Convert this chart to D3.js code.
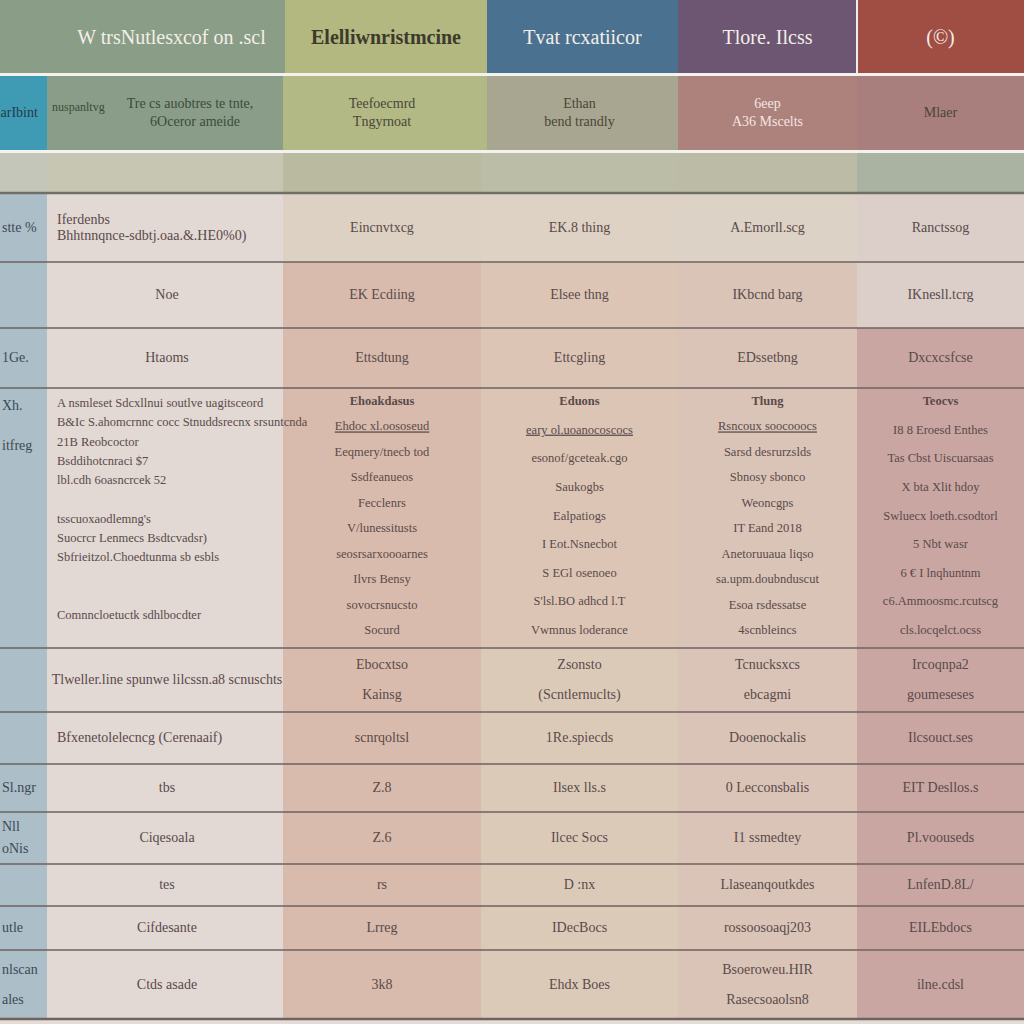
<!DOCTYPE html>
<html>
<head>
<meta charset="utf-8">
<script src="https://cdn.jsdelivr.net/npm/d3@7"></script>
<style>
  body { margin: 0; background: #e6dcd6; }
  svg text { font-family: "Liberation Serif", "DejaVu Serif", serif; }
</style>
</head>
<body>
<svg id="table"></svg>
<script>
let width = 1024, height = 1024;

// ---- table content ----
let headers = ["W trsNutlesxcof  on  .scl", "Elelliwnristmcine", "Tvat rcxatiicor", "Tlore. Ilcss", "(©)"];
let subLabel = "nuspanltvg";
let subHeaders = [
  ["arIbint"],
  ["Tre cs auobtres te tnte,", "6Oceror  ameide"],
  ["Teefoecmrd", "Tngyrnoat"],
  ["Ethan", "bend trandly"],
  ["6eep", "A36 Mscelts"],
  ["Mlaer"]
];
let rowLabels = [["stte %"], [""], ["1Ge."], ["Xh.", "itfreg"], [""], [""], ["Sl.ngr"], ["Nll", "oNis"], [""], ["utle"], ["nlscan", "ales"]];
let rowDescs = [
  ["Iferdenbs", "Bhhtnnqnce-sdbtj.oaa.&.HE0%0)"],
  ["Noe"],
  ["Htaoms"],
  ["A nsmleset  Sdcxllnui  soutlve uagitsceord", "B&Ic S.ahomcrnnc  cocc  Stnuddsrecnx srsuntcnda", "21B  Reobcoctor",
   "Bsddihotcnraci    $7", "lbl.cdh 6oasncrcek  52", "", "tsscuoxaodlemng's", "Suocrcr Lenmecs    Bsdtcvadsr)",
   "Sbfrieitzol.Choedtunma  sb esbls", "", "", "Comnncloetuctk  sdhlbocdter"],
  ["Tlweller.line   spunwe lilcssn.a8 scnuschts"],
  ["Bfxenetolelecncg (Cerenaaif)"],
  ["tbs"],
  ["Ciqesoala"],
  ["tes"],
  ["Cifdesante"],
  ["Ctds asade"]
];
let colA = [["Eincnvtxcg"], ["EK Ecdiing"], ["Ettsdtung"],
  ["Ehoakdasus", "Ehdoc xl.oososeud", "Eeqmery/tnecb tod", "Ssdfeanueos", "Fecclenrs", "V/lunessitusts", "seosrsarxoooarnes", "Ilvrs Bensy", "sovocrsnucsto", "Socurd"],
  ["Ebocxtso", "Kainsg"], ["scnrqoltsl"], ["Z.8"], ["Z.6"], ["rs"], ["Lrreg"], ["3k8"]];
let colB = [["EK.8 thing"], ["Elsee thng"], ["Ettcgling"],
  ["Eduons", "eary ol.uoanocoscocs", "esonof/gceteak.cgo", "Saukogbs", "Ealpatiogs", "I   Eot.Nsnecbot", "S  EGl  osenoeo", "S'lsl.BO adhcd l.T", "Vwmnus loderance"],
  ["Zsonsto", "(Scntlernuclts)"], ["1Re.spiecds"], ["Ilsex lls.s"], ["Ilcec Socs"], ["D   :nx"], ["IDecBocs"], ["Ehdx Boes"]];
let colC = [["A.Emorll.scg"], ["IKbcnd barg"], ["EDssetbng"],
  ["Tlung", "Rsncoux  soocooocs", "Sarsd desrurzslds", "Sbnosy  sbonco", "Weoncgps", "IT  Eand 2018", "Anetoruuaua liqso", "sa.upm.doubnduscut", "Esoa  rsdessatse", "4scnbleincs"],
  ["Tcnucksxcs", "ebcagmi"], ["Dooenockalis"], ["0  Lecconsbalis"], ["I1 ssmedtey"], ["Llaseanqoutkdes"], ["rossoosoaqj203"], ["Bsoeroweu.HIR", "Rasecsoaolsn8"]];
let colD = [["Ranctssog"], ["IKnesll.tcrg"], ["Dxcxcsfcse"],
  ["Teocvs", "I8 8  Eroesd  Enthes", "Tas Cbst Uiscuarsaas", "X  bta  Xlit hdoy", "Swluecx  loeth.csodtorl", "5  Nbt  wasr", "6  € I  lnqhuntnm", "c6.Ammoosmc.rcutscg", "cls.locqelct.ocss"],
  ["Ircoqnpa2", "goumeseses"], ["Ilcsouct.ses"], ["EIT Desllos.s"], ["Pl.voouseds"], ["LnfenD.8L/"], ["EILEbdocs"], ["ilne.cdsl"]];

// ---- layout ----
let colEdges = [0, 47, 283, 481, 678, 857, 1024];
let headerEdges = [0, 285, 487, 678, 857, 1024];
let rowEdges = [193, 262, 328, 388, 648, 712, 764, 812, 864, 906, 950, 1019];

let headerFill = ["#8a9d86", "#b2b880", "#4b7191", "#6d5672", "#a04d44"];
let subFill = ["#3f9bb3", "#8a9d88", "#b3b985", "#a8a690", "#ad817c", "#a97f7e"];
let bandFill = ["#c3c6b8", "#c6c6b2", "#b9ba9f", "#bcbda6", "#bcbca6", "#aab3a2"];
let bodyFill = ["#acbec8", "#e2d8d4", "#d8bbac", "#dcc5b5", "#d9c4b7", "#c9a6a2"];
let bodyFillLight = ["#acbec8", "#e2d9d4", "#ddd1c3", "#ddd2c4", "#ddd2c6", "#dccfca"];

let svg = d3.select("#table").attr("width", width).attr("height", height);

let x = d3.scaleOrdinal().domain(d3.range(7)).range(colEdges);
let nRows = rowEdges.length - 1;
let y = d3.scaleOrdinal().domain(d3.range(rowEdges.length)).range(rowEdges);

// header row
let hdr = svg.append("g");
hdr.selectAll("rect").data(headers).enter().append("rect")
  .attr("x", (d, i) => headerEdges[i]).attr("y", 0)
  .attr("width", (d, i) => headerEdges[i + 1] - headerEdges[i]).attr("height", 74)
  .attr("fill", (d, i) => headerFill[i]);
hdr.selectAll("text").data(headers).enter().append("text")
  .attr("x", (d, i) => (headerEdges[i] + headerEdges[i + 1]) / 2 + (i == 0 ? 29 : 0))
  .attr("y", 44)
  .attr("text-anchor", "middle")
  .attr("font-size", 20)
  .attr("fill", (d, i) => i == 1 ? "#3d3a2c" : "#f3efe8")
  .attr("font-weight", (d, i) => i == 1 ? "bold" : "normal")
  .text(d => d);
svg.append("line").attr("x1", 857).attr("x2", 857).attr("y1", 0).attr("y2", 74)
  .attr("stroke", "#eee").attr("stroke-width", 2);

// second header row
let sub = svg.append("g");
sub.selectAll("rect").data(subHeaders).enter().append("rect")
  .attr("x", (d, i) => i == 3 ? 487 : colEdges[i]).attr("y", 76)
  .attr("width", (d, i) => (i == 2 ? 487 : colEdges[i + 1]) - (i == 3 ? 487 : colEdges[i]))
  .attr("height", 75)
  .attr("fill", (d, i) => subFill[i]);
sub.append("text").attr("x", 52).attr("y", 111)
  .attr("font-size", 12).attr("fill", "#3b4a3c").text(subLabel);
sub.selectAll("g").data(subHeaders).enter().append("g")
  .each(function(lines, i) {
    let cx = (colEdges[i] + colEdges[i + 1]) / 2 + (i == 1 ? 25 : 0);
    let y0 = 117 - (lines.length - 1) * 9;
    d3.select(this).selectAll("text").data(lines).enter().append("text")
      .attr("x", (d, j) => i == 1 && j == 1 ? cx + 5 : cx)
      .attr("y", (d, j) => y0 + j * 18)
      .attr("text-anchor", i == 0 ? "start" : "middle")
      .attr("dx", i == 0 ? -23 : 0)
      .attr("font-size", 14)
      .attr("fill", i == 0 ? "#223c48" : i == 4 ? "#f2e6e2" : i == 1 ? "#3b4a3c" : "#4a4538")
      .text(d => d);
  });

// light band row
svg.append("g").selectAll("rect").data(bandFill).enter().append("rect")
  .attr("x", (d, i) => colEdges[i]).attr("y", 153)
  .attr("width", (d, i) => colEdges[i + 1] - colEdges[i]).attr("height", 40)
  .attr("fill", d => d);

// white separators
[74, 151].forEach(v => svg.append("line").attr("x1", 0).attr("x2", width)
  .attr("y1", v + 0.5).attr("y2", v + 0.5).attr("stroke", "#f4f2ee").attr("stroke-width", 3));

// body cells
let body = svg.append("g");
let cells = [];
for (let r = 0; r < nRows; r++) {
  let columns = [rowLabels[r], rowDescs[r], colA[r], colB[r], colC[r], colD[r]];
  columns.forEach((lines, c) => cells.push({ r, c, lines }));
}
let fillFor = d => {
  if (d.r == 0 && d.c >= 2) return bodyFillLight[d.c];
  if (d.r == 1 && d.c == 5) return bodyFillLight[d.c];
  if (d.r >= 4 && d.c == 3) return "#dccab9";
  return bodyFill[d.c];
};
body.selectAll("rect").data(cells).enter().append("rect")
  .attr("x", d => x(d.c)).attr("y", d => y(d.r))
  .attr("width", d => x(d.c + 1) - x(d.c)).attr("height", d => y(d.r + 1) - y(d.r))
  .attr("fill", fillFor);

let leftAligned = d => d.c == 1 && (d.r == 0 || d.r == 3 || d.r == 5);
body.selectAll("g.cell").data(cells).enter().append("g").attr("class", "cell")
  .each(function(d) {
    let top = y(d.r), bot = y(d.r + 1);
    let n = d.lines.length;
    let tall = bot - top > 150;
    let ly;
    if (n > 3) {
      ly = d3.scalePoint().domain(d3.range(n))
        .range(d.c == 1 ? [top + 19, bot - 29] : [top + 17, bot - 14]);
    } else if (tall) {
      ly = j => top + 22 + j * 40;
    } else {
      let step = d.c == 1 ? 16 : n == 2 && bot - top > 60 ? 30 : 22;
      ly = j => (top + bot) / 2 + 4 - (n - 1) * step / 2 + j * step;
    }
    let cx = (x(d.c) + x(d.c + 1)) / 2;
    let g = d3.select(this);
    g.selectAll("text").data(d.lines).enter().append("text")
      .attr("x", leftAligned(d) ? x(d.c) + 10 : d.c == 0 ? 2 : cx + (d.c == 1 ? 2 : 0))
      .attr("y", (t, j) => ly(j))
      .attr("text-anchor", leftAligned(d) || d.c == 0 ? "start" : "middle")
      .attr("font-size", n > 3 ? 12.5 : 14)
      .attr("font-weight", (t, j) => n > 3 && j == 0 && d.c >= 2 ? "bold" : "normal")
      .attr("text-decoration", (t, j) => n > 3 && j == 1 && d.c >= 2 && d.c <= 4 ? "underline" : "none")
      .attr("fill", d.c == 0 ? "#3d4a55" : "#5a4a4a")
      .text(t => t);
  });

// row separators
body.selectAll("line").data(rowEdges).enter().append("line")
  .attr("x1", 0).attr("x2", width)
  .attr("y1", d => d).attr("y2", d => d)
  .attr("stroke", (d, i) => i == 0 ? "#6f6f66" : "#6e6262")
  .attr("stroke-width", (d, i) => i == 0 || i == rowEdges.length - 1 ? 2.5 : 1.5);
</script>
</body>
</html>
